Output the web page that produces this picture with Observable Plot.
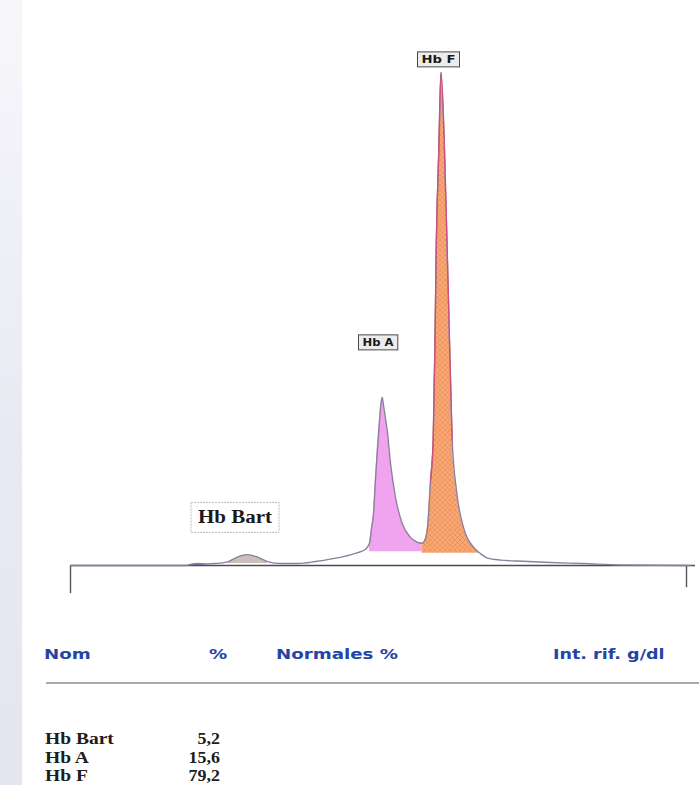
<!DOCTYPE html>
<html><head><meta charset="utf-8">
<script src="https://cdn.jsdelivr.net/npm/d3@7"></script>
<script src="https://cdn.jsdelivr.net/npm/@observablehq/plot@0.6"></script>
<style>
html,body{margin:0;padding:0;background:#fff;}
#wrap{position:relative;width:699px;height:785px;overflow:hidden;background:#fff;}
#leftstrip{position:absolute;left:0;top:0;width:22px;height:785px;background:linear-gradient(#f7f7fb,#e8eaf3 55%,#e3e6f0);}
#chart{position:absolute;left:0;top:0;}
.th{position:absolute;font-family:"DejaVu Sans",sans-serif;font-weight:bold;font-size:14px;color:#2545a6;line-height:16px;white-space:nowrap;transform-origin:0 50%;}
.td{position:absolute;font-family:"Liberation Serif",serif;font-weight:bold;font-size:16px;color:#1d1d1d;line-height:17px;height:17px;white-space:nowrap;}
#hline{position:absolute;left:46px;top:682px;width:653px;height:2px;background:#a9a9ad;}
</style></head><body>
<div id="wrap"><div id="leftstrip"></div><div id="chart"></div><div id="table"></div></div>
<script>
// Electropherogram trace (migration position, relative signal)
const migration = [0,57.5,60,63.5,67.5,72.5,79,84,88.3,93,98.5,105,113.5,122.5,130,137.5,143.5,147.5,149.5,150.5,151.5,152.5,153.5,154.5,155.25,155.85,156.5,157.5,158.35,160,162.5,165.85,170,173,175.85,177.5,178.5,180,181.35,182.25,182.85,184.15,185.25,187,188.35,189.5,190.85,193,196.5,201.5,205,208.5,215,223.5,240,256.5,275,310];
const signal    = [0,0,0.2,0.4,0.3,0.4,0.8,1.8,2.2,1.8,0.8,0.4,0.4,0.8,1.3,1.9,2.6,3.3,4.5,7.5,10.5,17.6,23.9,29.4,32.9,34.1,32.5,29.8,27.4,20.7,13.8,8.5,5.7,4.8,4.5,5.5,7.7,17.2,25.4,45.6,63.9,84.2,100,84.2,63.9,45.6,25.4,15.2,7.7,3.7,2.4,1.5,1.1,0.9,0.6,0.4,0.1,0];

// fractions
const fractionNames = ["Hb Bart","Hb A","Hb F"];
const fractionStart = [79,148.5,175.85];
const fractionEnd   = [98.5,175.85,205];
const fractionFloor = [0.4,2.8,2.5];
const fractionPct   = ["5,2","15,6","79,2"];
const blueStart = 60, blueEnd = 67.5;

// peak label anchors
const peakLabels = ["Hb F","Hb A"];
const peakLabelX = [184,153.75];
const peakLabelY = [102.6,45.2];
const bartLabel = ["Hb Bart"];
const bartLabelX = [82.25];
const bartLabelY = [9.7];

// axis extent
const axisEnds = [0,308];
const axisTickDepth = [-5.7,-4.5];

// table headers
const headers = ["Nom","%","Normales %","Int. rif. g/dl"];

const trace = migration.map((m,i)=>({m, s: signal[i]}));
const seg = (a,b)=>trace.filter(d=>d.m>=a-1e-9 && d.m<=b+1e-9);

const plot = Plot.plot({
  width: 699, height: 610,
  marginLeft: 70, marginRight: 9, marginTop: 72, marginBottom: 45,
  x: {domain:[0,310], axis:null},
  y: {domain:[0,100], axis:null},
  marks: [
    Plot.areaY(seg(blueStart,blueEnd), {x:"m", y1:0, y2:"s", fill:"#5b82b8", curve:"monotone-x"}),
    Plot.areaY(seg(fractionStart[0],fractionEnd[0]), {x:"m", y1:fractionFloor[0], y2:"s", fill:"#c7b8b4", fillOpacity:0.9, curve:"monotone-x"}),
    Plot.areaY(seg(fractionStart[1],fractionEnd[1]), {x:"m", y1:fractionFloor[1], y2:"s", fill:"#f0a3ee", curve:"monotone-x"}),
    Plot.areaY(seg(fractionStart[2],fractionEnd[2]), {x:"m", y1:fractionFloor[2], y2:"s", fill:"url(#hatch)", curve:"monotone-x"}),
    Plot.ruleY([0], {x1:0, x2:312.5, stroke:"#4a4a50", strokeWidth:1.6}),
    Plot.ruleX(axisEnds, {x: d=>d, y1:0, y2:(d,i)=>axisTickDepth[i], stroke:"#555", strokeWidth:1.4}),
    Plot.line(trace, {x:"m", y:"s", stroke:"#8e7f9c", strokeWidth:1.4, curve:"monotone-x"}),
    Plot.line(seg(180,192), {x:"m", y:"s", stroke:"#cc4f7e", strokeWidth:1.3, curve:"monotone-x"}),
    Plot.text(peakLabels, {x:(d,i)=>peakLabelX[i], y:(d,i)=>peakLabelY[i], text:d=>d,
      fontFamily:"DejaVu Sans", fontSize:10, fontWeight:"bold", fill:"#1a1a1a"}),
    Plot.text(bartLabel, {x:(d,i)=>bartLabelX[i], y:(d,i)=>bartLabelY[i], text:d=>d,
      fontFamily:"Liberation Serif", fontSize:18, fontWeight:"bold", fill:"#1a1a1a"})
  ]
});
document.getElementById("chart").appendChild(plot);

// hatch pattern
const svg = d3.select(plot);
const defs = svg.insert("defs", ":first-child");
const pat = defs.append("pattern").attr("id","hatch").attr("patternUnits","userSpaceOnUse").attr("width",5).attr("height",5);
pat.append("rect").attr("width",5).attr("height",5).attr("fill","#f8a874");
pat.append("path").attr("d","M0,0L5,5M5,0L0,5").attr("stroke","#e8854b").attr("stroke-width",0.55);

// stretch label text and put boxes behind them
const labelWidth = {"Hb F":34, "Hb A":31, "Hb Bart":74};
svg.selectAll("text").each(function(){
  const t = this, txt = t.textContent;
  if (!(txt in labelWidth)) return;
  t.setAttribute("textLength", labelWidth[txt]);
  t.setAttribute("lengthAdjust", "spacingAndGlyphs");
  const bb = t.getBBox();
  const isBart = txt === "Hb Bart";
  const px = isBart ? 7 : 4, py = isBart ? 5 : 2;
  d3.select(t.parentNode).insert("rect", () => t)
    .attr("transform", t.getAttribute("transform"))
    .attr("x", bb.x-px).attr("y", bb.y-py).attr("width", bb.width+2*px).attr("height", bb.height+2*py)
    .attr("fill", isBart ? "#ffffff" : "#ececec")
    .attr("stroke", isBart ? "#bdbdbd" : "#4a4a4a")
    .attr("stroke-width", 1)
    .attr("stroke-dasharray", isBart ? "2,1" : null);
});

// results table
const tbl = document.getElementById("table");
const add = (cls, txt, style) => { const d=document.createElement("div"); d.className=cls; d.textContent=txt; Object.assign(d.style, style); tbl.appendChild(d); return d; };
const hTop = "646px";
add("th", headers[0], {left:"44px", top:hTop, transform:"scaleX(1.3)"});
add("th", headers[1], {left:"209px", top:hTop, transform:"scaleX(1.3)"});
add("th", headers[2], {left:"276px", top:hTop, transform:"scaleX(1.3)"});
add("th", headers[3], {left:"553px", top:hTop, transform:"scaleX(1.25)"});
const hl = document.createElement("div"); hl.id="hline"; tbl.appendChild(hl);
const rowCenter = [738,757,775];
fractionNames.forEach((n,i)=>{
  add("td", n, {left:"45px", top:(rowCenter[i]-8.5)+"px", transform:"scaleX(1.22)", transformOrigin:"0 50%"});
  add("td", fractionPct[i], {left:"146px", width:"66px", textAlign:"right", top:(rowCenter[i]-8.5)+"px", transform:"scaleX(1.12)", transformOrigin:"0 50%"});
});
</script>
</body></html>
